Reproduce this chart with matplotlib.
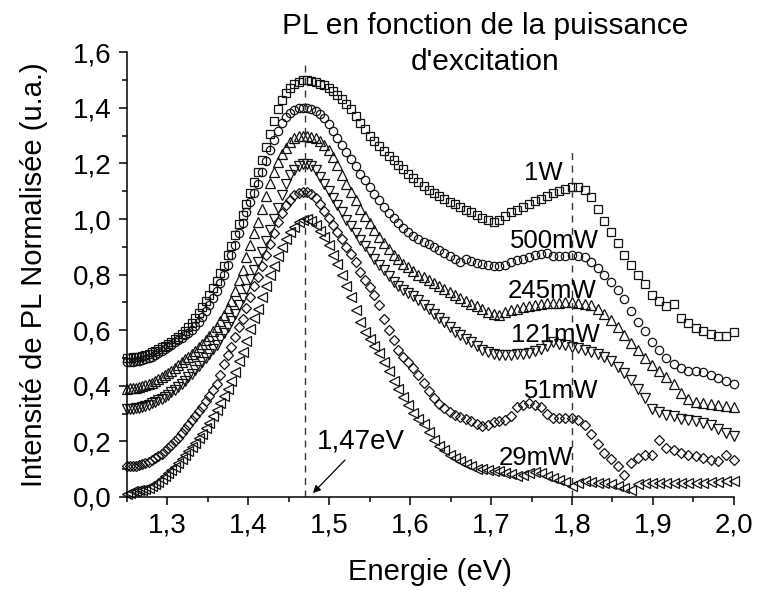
import numpy as np
import matplotlib
matplotlib.use("Agg")
import matplotlib.pyplot as plt
from matplotlib.ticker import MultipleLocator, FuncFormatter

plt.rcParams['font.family'] = ['Liberation Sans', 'DejaVu Sans']

# spectra sampled every 3 nm (992 nm -> 620 nm), plotted against photon energy
wavelength_nm = np.arange(992, 619, -3)
energy_ev = 1240.0 / wavelength_nm

pl_1w = [0.500, 0.501, 0.502, 0.503, 0.505, 0.507, 0.512, 0.516, 0.521, 0.527,
         0.533, 0.539, 0.545, 0.552, 0.559, 0.567, 0.577, 0.586, 0.597, 0.610,
         0.627, 0.645, 0.663, 0.683, 0.706, 0.728, 0.753, 0.776, 0.806, 0.832,
         0.870, 0.902, 0.942, 0.983, 1.014, 1.054, 1.094, 1.134, 1.168, 1.212,
         1.258, 1.306, 1.354, 1.395, 1.430, 1.455, 1.472, 1.485, 1.494, 1.499,
         1.500, 1.497, 1.492, 1.487, 1.481, 1.472, 1.460, 1.448, 1.433, 1.413,
         1.395, 1.372, 1.346, 1.324, 1.300, 1.280, 1.262, 1.245, 1.228, 1.212,
         1.196, 1.179, 1.162, 1.147, 1.133, 1.118, 1.106, 1.094, 1.083, 1.073,
         1.063, 1.053, 1.044, 1.034, 1.024, 1.013, 1.004, 0.995, 0.990, 0.998,
         1.012, 1.024, 1.034, 1.044, 1.055, 1.064, 1.073, 1.084, 1.094, 1.101,
         1.108, 1.114, 1.114, 1.106, 1.080, 1.036, 0.994, 0.955, 0.915, 0.872,
         0.835, 0.800, 0.765, 0.728, 0.705, 0.688, 0.694, 0.645, 0.625, 0.608,
         0.596, 0.586, 0.578, 0.578, 0.592]

pl_500mw = [0.485, 0.486, 0.487, 0.488, 0.490, 0.492, 0.496, 0.500, 0.505, 0.511,
            0.518, 0.525, 0.532, 0.540, 0.548, 0.556, 0.565, 0.573, 0.582, 0.591,
            0.602, 0.615, 0.630, 0.648, 0.670, 0.690, 0.716, 0.741, 0.771, 0.800,
            0.835, 0.870, 0.905, 0.950, 0.985, 1.025, 1.060, 1.095, 1.125, 1.170,
            1.210, 1.250, 1.285, 1.315, 1.345, 1.367, 1.383, 1.393, 1.398, 1.400,
            1.400, 1.396, 1.390, 1.378, 1.362, 1.342, 1.318, 1.293, 1.266, 1.240,
            1.215, 1.190, 1.163, 1.140, 1.114, 1.090, 1.067, 1.045, 1.022, 1.003,
            0.985, 0.968, 0.953, 0.940, 0.929, 0.919, 0.909, 0.899, 0.888, 0.877,
            0.866, 0.856, 0.846, 0.858, 0.850, 0.842, 0.838, 0.835, 0.832, 0.831,
            0.836, 0.844, 0.852, 0.858, 0.864, 0.870, 0.876, 0.878, 0.868, 0.866,
            0.868, 0.870, 0.868, 0.862, 0.845, 0.825, 0.800, 0.775, 0.745, 0.712,
            0.668, 0.630, 0.596, 0.558, 0.528, 0.500, 0.480, 0.463, 0.455, 0.452,
            0.450, 0.440, 0.428, 0.418, 0.405]

pl_245mw = [0.390, 0.391, 0.392, 0.393, 0.395, 0.398, 0.402, 0.406, 0.411, 0.417,
            0.424, 0.431, 0.438, 0.446, 0.455, 0.464, 0.475, 0.485, 0.495, 0.505,
            0.516, 0.527, 0.538, 0.550, 0.565, 0.580, 0.597, 0.613, 0.634, 0.655,
            0.680, 0.705, 0.740, 0.780, 0.817, 0.862, 0.905, 0.950, 0.988, 1.035,
            1.082, 1.128, 1.170, 1.205, 1.233, 1.257, 1.276, 1.290, 1.298, 1.300,
            1.300, 1.296, 1.290, 1.282, 1.268, 1.248, 1.222, 1.193, 1.160, 1.127,
            1.098, 1.067, 1.036, 1.010, 0.985, 0.960, 0.937, 0.914, 0.892, 0.872,
            0.855, 0.840, 0.826, 0.813, 0.800, 0.790, 0.780, 0.770, 0.760, 0.749,
            0.738, 0.727, 0.716, 0.706, 0.696, 0.686, 0.676, 0.667, 0.658, 0.656,
            0.664, 0.672, 0.678, 0.683, 0.687, 0.691, 0.694, 0.697, 0.698, 0.699,
            0.700, 0.700, 0.698, 0.695, 0.690, 0.677, 0.657, 0.635, 0.610, 0.582,
            0.555, 0.528, 0.500, 0.474, 0.452, 0.432, 0.405, 0.375, 0.352, 0.342,
            0.337, 0.333, 0.330, 0.326, 0.322]

pl_121mw = [0.315, 0.316, 0.317, 0.319, 0.321, 0.324, 0.328, 0.332, 0.337, 0.342,
            0.348, 0.354, 0.361, 0.368, 0.377, 0.386, 0.397, 0.407, 0.418, 0.430,
            0.444, 0.457, 0.470, 0.484, 0.500, 0.515, 0.532, 0.548, 0.570, 0.590,
            0.610, 0.632, 0.660, 0.690, 0.717, 0.750, 0.785, 0.818, 0.845, 0.880,
            0.920, 0.962, 1.000, 1.040, 1.085, 1.125, 1.158, 1.178, 1.192, 1.199,
            1.198, 1.190, 1.175, 1.150, 1.125, 1.100, 1.075, 1.052, 1.025, 0.998,
            0.975, 0.950, 0.925, 0.903, 0.880, 0.858, 0.836, 0.815, 0.795, 0.775,
            0.758, 0.744, 0.733, 0.722, 0.708, 0.692, 0.676, 0.660, 0.644, 0.628,
            0.610, 0.595, 0.583, 0.570, 0.556, 0.542, 0.530, 0.522, 0.515, 0.512,
            0.511, 0.512, 0.513, 0.515, 0.518, 0.524, 0.532, 0.545, 0.556, 0.552,
            0.546, 0.541, 0.536, 0.530, 0.522, 0.515, 0.502, 0.488, 0.468, 0.445,
            0.420, 0.390, 0.355, 0.315, 0.305, 0.296, 0.290, 0.282, 0.277, 0.272,
            0.266, 0.259, 0.246, 0.232, 0.220]

pl_51mw = [0.110, 0.111, 0.112, 0.113, 0.115, 0.118, 0.122, 0.127, 0.133, 0.140,
           0.148, 0.156, 0.165, 0.176, 0.188, 0.200, 0.214, 0.230, 0.245, 0.260,
           0.276, 0.293, 0.310, 0.325, 0.345, 0.365, 0.385, 0.407, 0.440, 0.478,
           0.510, 0.540, 0.575, 0.610, 0.640, 0.680, 0.720, 0.760, 0.790, 0.830,
           0.870, 0.910, 0.950, 0.990, 1.020, 1.050, 1.070, 1.085, 1.094, 1.099,
           1.098, 1.090, 1.075, 1.055, 1.030, 1.005, 0.980, 0.955, 0.930, 0.900,
           0.875, 0.845, 0.810, 0.780, 0.755, 0.725, 0.690, 0.640, 0.600, 0.565,
           0.530, 0.505, 0.485, 0.465, 0.440, 0.410, 0.380, 0.355, 0.335, 0.320,
           0.305, 0.295, 0.287, 0.280, 0.272, 0.264, 0.256, 0.260, 0.270, 0.274,
           0.278, 0.290, 0.322, 0.330, 0.338, 0.330, 0.322, 0.298, 0.286, 0.284,
           0.284, 0.286, 0.278, 0.258, 0.228, 0.190, 0.160, 0.138, 0.110, 0.080,
           0.122, 0.140, 0.152, 0.150, 0.205, 0.178, 0.170, 0.160, 0.152, 0.148,
           0.140, 0.132, 0.128, 0.152, 0.133]

pl_29mw = [0.010, 0.015, 0.020, 0.022, 0.024, 0.026, 0.029, 0.034, 0.040, 0.047,
           0.055, 0.064, 0.074, 0.085, 0.096, 0.108, 0.122, 0.136, 0.150, 0.164,
           0.180, 0.196, 0.212, 0.228, 0.248, 0.268, 0.290, 0.312, 0.338, 0.362,
           0.390, 0.417, 0.450, 0.488, 0.522, 0.563, 0.603, 0.643, 0.678, 0.718,
           0.758, 0.797, 0.832, 0.866, 0.898, 0.928, 0.953, 0.972, 0.988, 0.998,
           0.999, 0.992, 0.978, 0.958, 0.935, 0.905, 0.870, 0.840, 0.800, 0.758,
           0.718, 0.672, 0.628, 0.595, 0.570, 0.545, 0.518, 0.486, 0.452, 0.418,
           0.388, 0.358, 0.330, 0.302, 0.282, 0.262, 0.235, 0.205, 0.182, 0.168,
           0.152, 0.140, 0.130, 0.120, 0.110, 0.102, 0.099, 0.097, 0.095, 0.092,
           0.088, 0.082, 0.076, 0.078, 0.086, 0.090, 0.088, 0.076, 0.068, 0.062,
           0.055, 0.038, 0.052, 0.056, 0.055, 0.052, 0.050, 0.048, 0.040, 0.032,
           0.026, 0.048, 0.050, 0.050, 0.050, 0.050, 0.049, 0.050, 0.051, 0.050,
           0.052, 0.054, 0.055, 0.057, 0.058]

power_labels = ['1W', '500mW', '245mW', '121mW', '51mW', '29mW']
spectra = [pl_1w, pl_500mw, pl_245mw, pl_121mw, pl_51mw, pl_29mw]

# dashed guides at the two emission peaks
peak_energies = [1.47, 1.80]
peak_line_tops = [1.56, 1.25]

markers = ['s', 'o', '^', 'v', 'D', '<']
marker_sizes = [6, 6, 6.8, 6.8, 5, 6.8]
# label anchor (centre x, baseline y) in data units
label_pos = [(1.764, 1.141), (1.778, 0.896), (1.775, 0.716),
             (1.779, 0.558), (1.786, 0.356), (1.756, 0.115)]

fig = plt.figure(figsize=(7.59, 5.94), dpi=100)
ax = fig.add_axes([0.1669, 0.1633, 0.8001, 0.7487])

for vals, mk, ms in zip(spectra, markers, marker_sizes):
    ax.plot(energy_ev, vals, linestyle='none', marker=mk, ms=ms,
            mfc='none', mec='#111111', mew=0.9, clip_on=False)

ax.vlines(peak_energies, 0, peak_line_tops, colors='#333333',
          linestyles=(0, (5, 4)), lw=1.0)

for name, (px, py) in zip(power_labels, label_pos):
    ax.text(px, py, name, fontsize=18.5, ha='center', va='baseline')

ax.annotate('', xy=(1.480, 0.014), xytext=(1.5196, 0.133),
            arrowprops=dict(arrowstyle='-|>', color='black', lw=0.9,
                            mutation_scale=11, shrinkA=0, shrinkB=0))
ax.text(1.485, 0.173, '1,47eV', fontsize=20, ha='left', va='baseline')

ax.set_xlim(1.25, 2.0)
ax.set_ylim(0, 1.6)
ax.spines['top'].set_visible(False)
ax.spines['right'].set_visible(False)
for s in ['left', 'bottom']:
    ax.spines[s].set_linewidth(1.1)

ax.xaxis.set_major_locator(MultipleLocator(0.1))
ax.xaxis.set_minor_locator(MultipleLocator(0.05))
ax.yaxis.set_major_locator(MultipleLocator(0.2))
ax.yaxis.set_minor_locator(MultipleLocator(0.1))
comma = FuncFormatter(lambda v, pos: f"{v:.1f}".replace('.', ','))
ax.xaxis.set_major_formatter(comma)
ax.yaxis.set_major_formatter(comma)
ax.tick_params(which='major', direction='out', length=6, width=1.1,
               labelsize=20, pad=5)
ax.tick_params(which='minor', direction='out', length=3.3, width=1.1)

ax.set_xlabel('Energie (eV)', fontsize=21, labelpad=14)
ax.set_ylabel('Intensité de PL Normalisée (u.a.)', fontsize=21, labelpad=18)

fig.text(0.639, 0.9428, 'PL en fonction de la puissance', fontsize=21.5,
         ha='center', va='baseline')
fig.text(0.639, 0.882, "d'excitation", fontsize=21.5, ha='center', va='baseline')

fig.savefig('out.png', dpi=100)
